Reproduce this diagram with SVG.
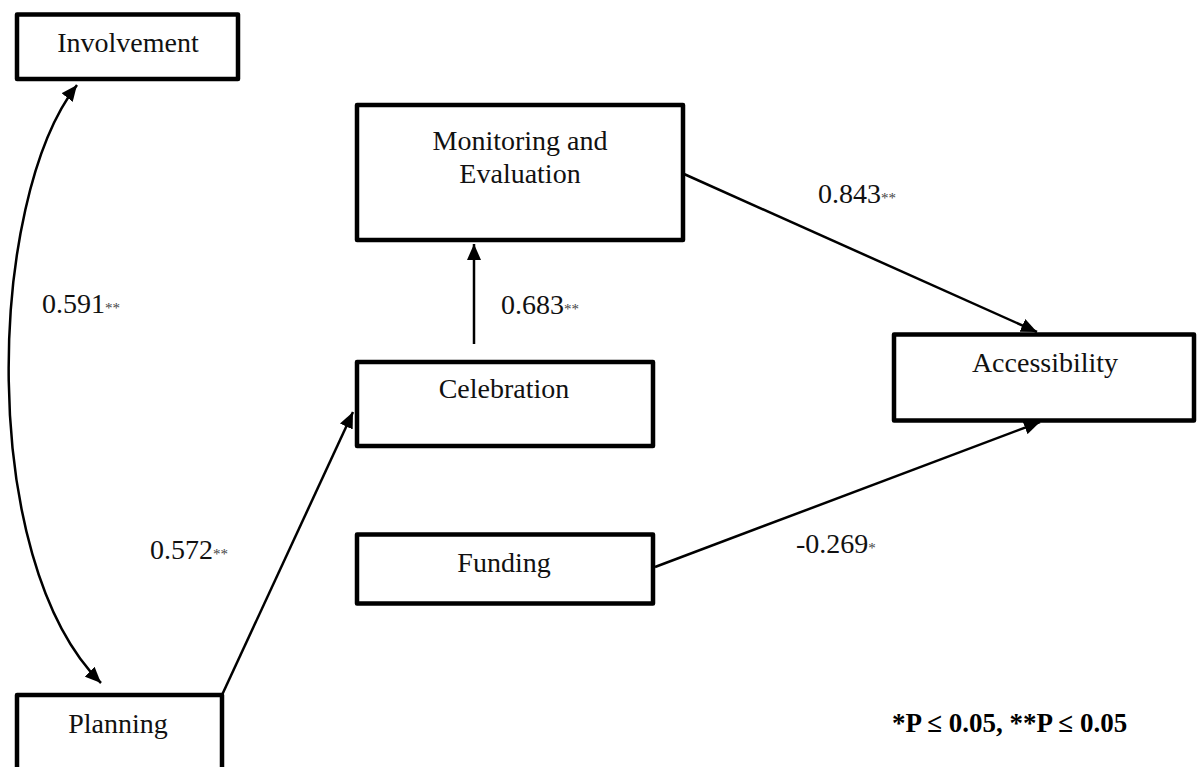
<svg xmlns="http://www.w3.org/2000/svg" width="1197" height="767" viewBox="0 0 1197 767">
<style>
.box{fill:#fff;stroke:#000;stroke-width:4.5;stroke-linejoin:round}
.t{font-family:"Liberation Serif",serif;font-size:28px;fill:#111;text-anchor:middle}
.lbl{font-family:"Liberation Serif",serif;font-size:28px;fill:#111}
.st{font-size:15px;fill:#444}
.conn{fill:none;stroke:#000;stroke-width:2.5}
.leg{font-family:"Liberation Serif",serif;font-size:27px;font-weight:bold;fill:#000}
</style>
<defs>
<marker id="ah" viewBox="0 0 16 14" refX="16" refY="7" markerWidth="16" markerHeight="14" markerUnits="userSpaceOnUse" orient="auto-start-reverse">
<path d="M0,0 L16,7 L0,14 z" fill="#000"/>
</marker>
</defs>
<rect width="1197" height="767" fill="#fff"/>
<g id="connectors">
<path class="conn" d="M77,85 C-13,200 -23,560 101,683" marker-start="url(#ah)" marker-end="url(#ah)"/>
<path class="conn" d="M222,695 L353,412" marker-end="url(#ah)"/>
<path class="conn" d="M474,344 L474,244" marker-end="url(#ah)"/>
<path class="conn" d="M684,174 L1037,332" marker-end="url(#ah)"/>
<path class="conn" d="M655,567 L1040,422" marker-end="url(#ah)"/>
</g>
<g id="involvement">
<rect class="box" x="17" y="14.5" width="221" height="64.5"/>
<text class="t" x="128" y="52">Involvement</text>
</g>
<g id="planning">
<rect class="box" x="17" y="695" width="205" height="100"/>
<text class="t" x="118" y="733">Planning</text>
</g>
<g id="monitoring">
<rect class="box" x="357" y="105" width="326" height="135"/>
<text class="t" x="520" y="150">Monitoring and</text>
<text class="t" x="520" y="183">Evaluation</text>
</g>
<g id="celebration">
<rect class="box" x="357" y="362" width="296" height="84"/>
<text class="t" x="504" y="398">Celebration</text>
</g>
<g id="funding">
<rect class="box" x="357" y="534.5" width="296" height="69"/>
<text class="t" x="504" y="572">Funding</text>
</g>
<g id="accessibility">
<rect class="box" x="894" y="334.5" width="300" height="86"/>
<text class="t" x="1045" y="372">Accessibility</text>
</g>
<g id="labels">
<text class="lbl" x="42" y="313">0.591<tspan class="st">**</tspan></text>
<text class="lbl" x="501" y="314">0.683<tspan class="st">**</tspan></text>
<text class="lbl" x="818" y="203">0.843<tspan class="st">**</tspan></text>
<text class="lbl" x="150" y="559">0.572<tspan class="st">**</tspan></text>
<text class="lbl" x="796" y="553">-0.269<tspan class="st">*</tspan></text>
<text class="leg" x="892" y="732">*P ≤ 0.05, **P ≤ 0.05</text>
</g>
</svg>
